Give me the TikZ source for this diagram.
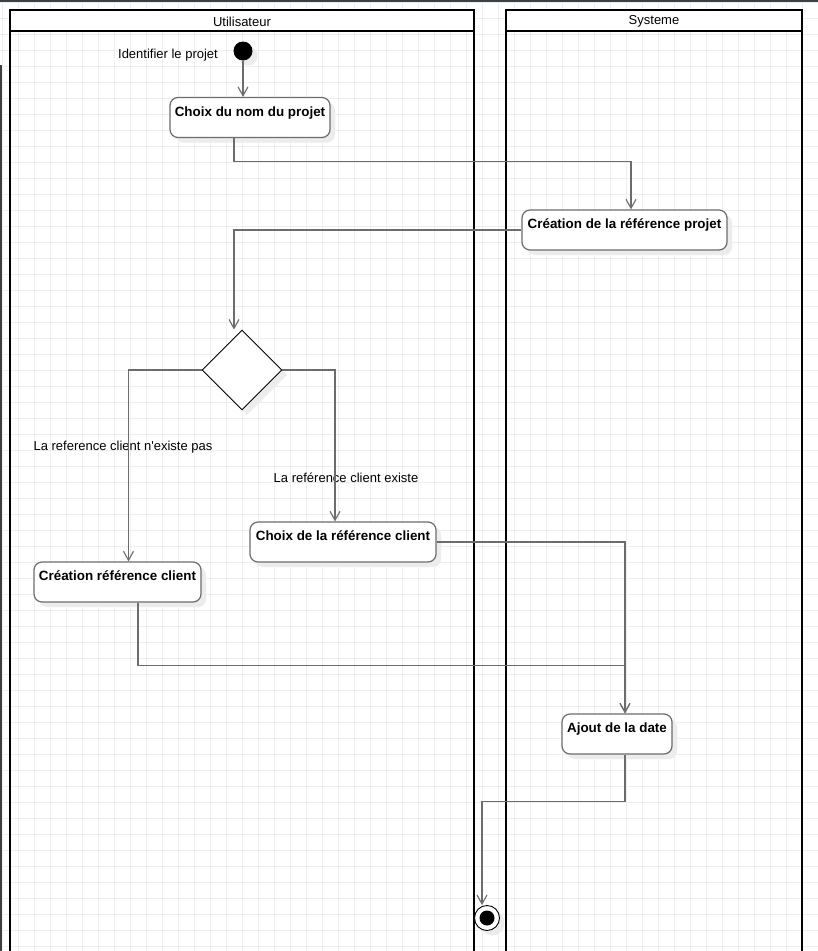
\documentclass[tikz,border=0pt]{standalone}
\usepackage{fontspec}
\setmainfont{Liberation Sans}[Ligatures=TeXOff]
\usepackage{tikz}
\usetikzlibrary{arrows.meta,shapes.geometric,shadows}
\definecolor{gridgray}{RGB}{238,238,238}
\definecolor{linegray}{RGB}{108,108,108}
\definecolor{shadegray}{RGB}{236,236,236}
\definecolor{framedark}{RGB}{60,64,67}

\begin{document}
\begin{tikzpicture}[x=1pt, y=-1pt,
    every node/.style={font=\fontsize{13}{15}\selectfont},
    lane/.style={line width=1.6pt},
    ombre/.style={drop shadow={shadow xshift=5pt, shadow yshift=-5pt, fill=shadegray, opacity=1}},
    activite/.style={draw=linegray, line width=1.2pt, fill=white, rounded corners=8pt, ombre,
      font=\fontsize{13.4}{15}\selectfont\bfseries, text height=12pt, text depth=15pt,
      inner ysep=6.5pt, inner xsep=3pt},
    flux/.style={draw=linegray, line width=1.1pt, -{Straight Barb[length=9pt, width=10pt, line width=1.1pt]}}]
      \useasboundingbox (0,0) rectangle (818,951);
      % fond quadrille
      \fill[white] (0,0) rectangle (818,951);
      \begin{scope}[shift={(2.7,2)}]
        \draw[gridgray, line width=1pt] (-3,-2) grid[step=16pt] (816,949);
      \end{scope}
      \fill[framedark] (0,0) rectangle (818,2.3);
      \fill[framedark] (0,65) rectangle (2.3,951);

      % couloirs
      \draw[lane, fill=white] (10,10) rectangle (474,31);
      \draw[lane] (10,31) -- (10,960) (474,31) -- (474,960);
      \node (utilisateur) at (242,21.5) {Utilisateur};
      \draw[lane, fill=white] (506,10) rectangle (802,31);
      \draw[lane] (506,31) -- (506,960) (802,31) -- (802,960);
      \node (systeme) at (654,21.5) {Systeme};

      % noeuds
      \node[circle, fill=black, minimum size=19pt, inner sep=0pt, ombre] (start) at (243,51) {};
      \node (identifier) at (168,55) {Identifier le projet};
      \node[activite, minimum width=160pt] (nomprojet) at (250,117.5) {Choix du nom du projet};
      \node[activite, minimum width=205pt] (refprojet) at (624.5,230) {Création de la référence projet};
      \node[diamond, draw=black, line width=0.9pt, fill=white, minimum width=80pt, minimum height=80pt,
        inner sep=0pt, ombre] (choix) at (242,370) {};
      \node (nonexiste) at (123,447) {La reference client n'existe pas};
      \node (existe) at (346,478) {La reférence client existe};
      \node[activite, minimum width=186pt] (choixref) at (343,542) {Choix de la référence client};
      \node[activite, minimum width=167pt] (creaclient) at (117.5,582) {Création référence client};
      \node[activite, minimum width=110pt] (ajoutdate) at (617,734) {Ajout de la date};
      \node[circle, draw=black, line width=0.9pt, fill=white, minimum size=25pt, inner sep=0pt, ombre] (stop) at (487,918) {};
      \fill[black] (stop.center) circle (7.5pt);

      % transitions
      \draw[flux] (start.south) -- (start |- nomprojet.north);
      \draw[flux] ([xshift=-16pt]nomprojet.south) -- ++(0,23) -| ([xshift=6.5pt]refprojet.north);
      \draw[flux] (refprojet.west) -| ([xshift=-8pt]choix.north);
      \draw[flux] (choix.west) -| ([xshift=11pt]creaclient.north);
      \draw[flux] (choix.east) -| ([xshift=-8pt]choixref.north);
      \draw[flux] (choixref.east) -| ([xshift=8pt]ajoutdate.north);
      \draw[flux] ([xshift=20.5pt]creaclient.south) -- ++(0,63) -| ([xshift=8pt]ajoutdate.north);
      \draw[flux] ([xshift=8pt]ajoutdate.south) -- ++(0,47) -| ([xshift=-5pt]stop.north);
    \end{tikzpicture}
\end{document}
